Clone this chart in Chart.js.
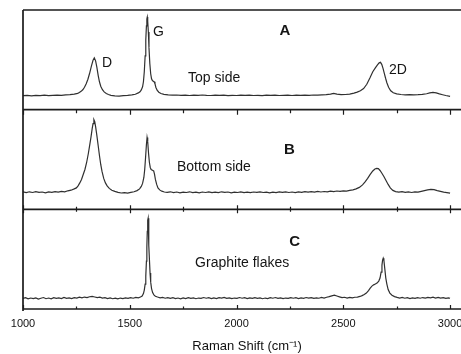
<!DOCTYPE html>
<html>
<head>
<meta charset="utf-8">
<script src="https://cdn.jsdelivr.net/npm/chart.js@4.4.1/dist/chart.umd.min.js"></script>
<style>
  html, body { margin: 0; padding: 0; background: #fff; overflow: hidden; }
  #raman { display: block; }
</style>
</head>
<body>
<canvas id="raman" width="471" height="354"></canvas>
<script>
// ================= Data (Raman shift cm-1, intensity a.u.) =================
const topSide = [
  [1000,14.0],[1020,14.4],[1040,13.9],[1060,14.3],[1080,14.1],[1100,14.5],[1120,14.0],[1140,14.4],
  [1160,14.6],[1180,14.3],[1200,14.8],[1220,15.0],[1240,15.6],
  [1256,16.4],[1264,17.2],[1272,18.4],[1280,20.0],[1288,22.5],[1296,26.0],[1304,30.5],[1312,36.5],
  [1320,43.5],[1328,49.5],[1334,52.0],[1340,49.0],[1346,42.5],[1352,34.5],[1358,28.0],[1364,23.5],
  [1372,20.0],[1380,17.8],[1390,16.2],[1400,15.2],[1412,14.4],
  [1430,13.9],[1450,13.6],[1470,14.0],[1490,14.3],[1510,14.8],[1526,15.5],[1540,16.8],
  [1548,18.0],[1554,19.8],[1560,23.0],[1564,28.0],[1568,38.0],[1572,54.0],[1575,70.0],[1578,84.0],
  [1580,91.0],[1582,93.0],[1584,89.0],[1587,78.0],[1590,62.0],[1594,46.0],[1598,36.0],[1602,31.0],
  [1606,29.2],[1610,28.6],[1614,28.0],[1618,26.0],[1622,22.5],[1628,19.5],[1636,17.5],[1646,16.2],
  [1660,15.4],
  [1680,14.9],[1700,14.5],[1720,14.7],[1740,14.3],[1760,14.6],[1780,14.2],[1800,14.5],[1820,14.3],
  [1840,14.7],[1860,14.4],[1880,14.2],[1900,14.6],[1920,14.3],[1940,14.5],[1960,14.1],[1980,14.4],
  [2000,14.2],[2020,14.5],[2040,14.3],[2060,14.6],[2080,14.2],[2100,14.4],[2120,14.1],[2140,14.5],
  [2160,14.3],[2180,14.6],[2200,14.2],[2220,14.4],[2240,14.5],[2260,14.2],[2280,14.6],[2300,14.3],
  [2320,14.5],[2340,14.4],[2360,14.7],[2380,14.5],[2400,14.8],[2420,15.0],[2440,15.6],[2455,16.4],
  [2470,15.6],[2490,15.0],[2510,15.2],[2530,15.6],
  [2550,16.6],[2565,17.6],[2580,19.0],[2595,21.2],[2610,25.5],[2625,32.0],[2638,38.0],[2650,42.0],
  [2660,45.0],[2668,47.0],[2674,47.5],[2680,45.5],[2686,41.5],[2692,36.5],[2698,31.5],[2704,27.0],
  [2712,22.5],[2722,19.0],[2734,17.0],[2750,15.8],
  [2770,15.2],[2790,14.9],[2810,15.1],[2830,14.8],[2850,15.0],[2870,15.3],[2890,16.0],[2905,16.8],
  [2920,17.3],[2935,16.8],[2950,15.8],[2965,15.0],[2980,14.2],[3000,13.4]
];

const bottomSide = [
  [1000,17.5],[1015,16.8],[1030,17.6],[1045,16.9],[1060,17.8],[1075,17.0],[1090,17.4],[1105,16.6],
  [1120,17.5],[1135,17.0],[1150,17.8],[1165,17.2],[1180,18.0],[1195,17.6],[1210,18.6],[1225,19.2],
  [1240,20.5],[1250,21.5],[1258,23.5],[1266,26.5],[1274,30.0],[1282,35.0],[1290,40.0],[1298,47.0],
  [1306,56.0],[1312,64.0],[1318,72.0],[1324,81.0],[1328,86.0],[1332,90.0],[1336,88.0],[1340,83.0],
  [1346,74.0],[1352,64.0],[1358,54.0],[1364,45.0],[1370,38.0],[1378,31.0],[1386,26.5],[1394,23.5],
  [1404,21.0],[1416,19.2],
  [1430,18.0],[1445,17.0],[1460,16.4],[1475,16.8],[1490,16.2],[1505,17.0],[1520,17.6],[1534,18.8],
  [1546,20.5],[1554,23.0],[1560,26.0],[1566,32.0],[1570,40.0],[1574,52.0],[1578,65.0],[1581,72.0],
  [1584,68.0],[1588,56.0],[1592,47.0],[1596,42.0],[1600,40.0],[1604,39.5],[1608,39.0],[1612,38.5],
  [1616,35.0],[1620,30.0],[1626,25.0],[1632,21.5],[1640,19.5],[1650,18.2],[1662,17.4],
  [1675,17.0],[1690,17.6],[1705,16.8],[1720,17.4],[1735,16.6],[1750,17.3],[1765,16.9],[1780,17.6],
  [1795,16.8],[1810,17.2],[1825,16.5],[1840,17.4],[1855,16.9],[1870,17.5],[1885,16.7],[1900,17.3],
  [1915,16.8],[1930,17.6],[1945,17.0],[1960,17.4],[1975,16.6],[1990,17.2],[2005,16.9],[2020,17.5],
  [2035,16.8],[2050,17.3],[2065,16.7],[2080,17.4],[2095,17.0],[2110,17.6],[2125,16.9],[2140,17.3],
  [2155,16.6],[2170,17.2],[2185,16.8],[2200,17.5],[2215,17.0],[2230,17.6],[2245,16.9],[2260,17.4],
  [2275,16.8],[2290,17.5],[2305,17.1],[2320,17.8],[2335,17.2],[2350,17.7],[2365,17.3],[2380,18.0],
  [2395,17.4],[2410,17.9],[2425,17.5],[2440,18.2],[2455,17.8],[2470,18.4],[2485,18.0],[2500,18.6],
  [2515,18.3],[2530,19.0],
  [2545,19.6],[2560,20.5],[2575,22.0],[2590,24.5],[2602,27.5],[2614,31.0],[2626,35.0],[2638,38.5],
  [2648,40.5],[2656,41.0],[2664,40.8],[2672,39.0],[2680,36.5],[2690,33.0],[2700,29.0],[2710,25.0],
  [2720,21.5],[2732,19.0],[2745,17.8],
  [2760,17.2],[2775,17.8],[2790,17.0],[2805,17.6],[2820,16.9],[2835,17.5],[2850,17.2],[2865,18.0],
  [2880,18.8],[2895,19.5],[2910,20.0],[2925,19.7],[2940,18.8],[2955,18.0],[2970,17.2],[2985,16.8],
  [3000,16.2]
];

const graphiteFlakes = [
  [1000,10.6],[1012,11.4],[1024,10.2],[1036,11.0],[1048,10.4],[1060,11.2],[1072,10.0],[1084,10.8],
  [1096,11.5],[1108,10.3],[1120,11.0],[1132,10.2],[1144,11.3],[1156,10.6],[1168,11.1],[1180,10.4],
  [1192,11.6],[1204,10.7],[1216,11.2],[1228,10.5],[1240,11.4],[1252,11.0],[1264,11.8],[1276,11.2],
  [1288,12.0],[1300,11.5],[1312,12.3],[1324,12.6],[1336,12.0],[1348,11.4],[1360,11.8],[1372,10.9],
  [1384,11.3],[1396,10.5],[1408,11.1],[1420,10.3],[1432,10.9],[1444,10.2],[1456,11.0],[1468,10.5],
  [1480,11.2],[1492,10.6],[1504,11.4],[1516,10.8],[1528,11.6],[1540,11.2],[1550,12.0],[1558,13.0],
  [1564,15.5],[1568,19.0],[1572,25.0],[1575,33.0],[1578,48.0],[1580,62.0],[1582,78.0],[1584,89.0],
  [1586,91.0],[1588,82.0],[1590,64.0],[1592,50.0],[1595,36.0],[1598,27.0],[1602,20.5],[1607,16.5],
  [1613,14.2],[1620,12.8],[1630,12.0],[1642,11.2],
  [1654,11.6],[1666,10.8],[1678,11.4],[1690,10.6],[1702,11.3],[1714,10.4],[1726,11.0],[1738,10.2],
  [1750,11.1],[1762,10.5],[1774,11.4],[1786,10.7],[1798,11.2],[1810,10.3],[1822,11.0],[1834,10.6],
  [1846,11.5],[1858,10.8],[1870,11.3],[1882,10.4],[1894,11.1],[1906,10.5],[1918,11.4],[1930,10.9],
  [1942,11.6],[1954,10.7],[1966,11.2],[1978,10.4],[1990,11.0],[2002,10.6],[2014,11.5],[2026,10.8],
  [2038,11.3],[2050,10.5],[2062,11.2],[2074,10.6],[2086,11.4],[2098,10.7],[2110,11.1],[2122,10.3],
  [2134,11.0],[2146,10.5],[2158,11.3],[2170,10.8],[2182,11.5],[2194,10.6],[2206,11.2],[2218,10.4],
  [2230,11.0],[2242,10.6],[2254,11.4],[2266,10.8],[2278,11.3],[2290,10.5],[2302,11.1],[2314,10.7],
  [2326,11.5],[2338,10.9],[2350,11.4],[2362,10.6],[2374,11.2],[2386,10.8],[2398,11.6],[2410,11.0],
  [2422,11.8],[2434,12.4],[2446,13.2],[2458,13.8],[2470,13.0],[2482,12.2],[2494,11.4],[2506,11.8],
  [2518,11.0],[2530,11.6],[2542,11.2],[2554,11.8],[2566,12.0],
  [2578,12.6],[2588,13.4],[2598,14.5],[2608,16.0],[2618,18.5],[2626,21.0],[2634,23.0],[2642,24.2],
  [2650,25.0],[2658,26.0],[2666,28.0],[2672,31.0],[2677,37.0],[2681,44.0],[2684,49.0],[2687,51.0],
  [2690,49.0],[2694,41.0],[2699,31.0],[2704,25.0],[2710,19.5],[2718,16.0],[2728,13.8],[2740,12.4],
  [2752,11.6],
  [2764,11.0],[2776,11.6],[2788,10.8],[2800,11.3],[2812,10.5],[2824,11.2],[2836,10.6],[2848,11.4],
  [2860,10.8],[2872,11.5],[2884,11.0],[2896,11.7],[2908,11.2],[2920,11.8],[2932,11.0],[2944,11.6],
  [2956,10.9],[2968,11.4],[2980,10.7],[2992,11.2],[3000,10.8]
];

const majorTicks = [1000, 1500, 2000, 2500, 3000];
const minorTicks = [1250, 1750, 2250, 2750];

// text labels placed in data units of each panel
const annotations = [
  { text: 'A', x: 2227, y: 75, axis: 'yA', bold: true, align: 'center' },
  { text: 'D', x: 1370, y: 43.3, axis: 'yA' },
  { text: 'G', x: 1609, y: 74, axis: 'yA' },
  { text: 'Top side', x: 1773, y: 27.3, axis: 'yA' },
  { text: '2D', x: 2714, y: 36, axis: 'yA' },
  { text: 'B', x: 2248, y: 55.7, axis: 'yB', bold: true, align: 'center' },
  { text: 'Bottom side', x: 1721, y: 38.3, axis: 'yB' },
  { text: 'C', x: 2272, y: 63, axis: 'yC', bold: true, align: 'center' },
  { text: 'Graphite flakes', x: 1806, y: 41.7, axis: 'yC' }
];

const FONT = '"Liberation Sans", Arial, Helvetica, sans-serif';

// ================= Frame, ticks and labels =================
const framePlugin = {
  id: 'frame',
  afterDatasetsDraw(chart) {
    const { ctx, chartArea: a, scales } = chart;
    const x = scales.x;
    const sepAB = scales.yA.bottom, sepBC = scales.yB.bottom;
    ctx.save();
    ctx.strokeStyle = '#1c1c1c';
    ctx.lineWidth = 1.7;
    ctx.beginPath();
    ctx.moveTo(a.left, a.top); ctx.lineTo(a.right, a.top);
    ctx.moveTo(a.left, a.top); ctx.lineTo(a.left, a.bottom + 2);
    [sepAB, sepBC, a.bottom].forEach(y => { ctx.moveTo(a.left, y); ctx.lineTo(a.right, y); });
    ctx.stroke();

    ctx.lineWidth = 1.2;
    ctx.beginPath();
    x.ticks.forEach(t => {
      const px = Math.round(x.getPixelForValue(t.value)) + 0.5;
      const major = majorTicks.includes(t.value);
      ctx.moveTo(px, sepAB); ctx.lineTo(px, sepAB + (major ? 5 : 3.5));
      ctx.moveTo(px, sepBC - (major ? 4 : 2.5)); ctx.lineTo(px, sepBC + (major ? 4 : 2.5));
      ctx.moveTo(px, a.bottom); ctx.lineTo(px, a.bottom - (major ? 4 : 2.5));
    });
    ctx.stroke();

    ctx.fillStyle = '#151515';
    ctx.textBaseline = 'alphabetic';
    annotations.forEach(n => {
      ctx.font = (n.bold ? 'bold 15px ' : '14px ') + FONT;
      ctx.textAlign = n.align || 'left';
      ctx.fillText(n.text, x.getPixelForValue(n.x), scales[n.axis].getPixelForValue(n.y));
    });
    ctx.restore();
  }
};

const panelScale = weight => ({
  type: 'linear',
  position: 'left',
  stack: 'panels',
  stackWeight: 1,
  weight,
  min: 0,
  max: 100,
  ticks: { display: false },
  grid: { display: false, drawTicks: false },
  border: { display: false },
  afterFit: s => { s.width = 0; }
});

const lineSet = (data, axis) => ({
  data: data.map(p => ({ x: p[0], y: p[1] })),
  yAxisID: axis,
  borderColor: '#303030',
  borderWidth: 1.2,
  pointRadius: 0,
  tension: 0,
  fill: false
});

new Chart(document.getElementById('raman').getContext('2d'), {
  type: 'line',
  data: {
    datasets: [
      lineSet(topSide, 'yA'),
      lineSet(bottomSide, 'yB'),
      lineSet(graphiteFlakes, 'yC')
    ]
  },
  options: {
    responsive: false,
    devicePixelRatio: 1,
    animation: false,
    layout: { padding: { left: 23, top: 10, right: 0, bottom: 0 } },
    plugins: { legend: { display: false }, tooltip: { enabled: false } },
    scales: {
      x: {
        type: 'linear',
        min: 1000,
        max: 3098,
        afterBuildTicks: s => {
          s.ticks = [...majorTicks, ...minorTicks].sort((p, q) => p - q).map(v => ({ value: v }));
        },
        ticks: {
          autoSkip: false,
          maxRotation: 0,
          padding: 8,
          color: '#111',
          font: { family: FONT, size: 11 },
          callback: v => majorTicks.includes(v) ? String(v) : ''
        },
        grid: { display: false, drawTicks: false },
        border: { display: false },
        title: {
          display: true,
          text: 'Raman Shift (cm\u207B\u00B9)',
          color: '#111',
          font: { family: FONT, size: 13 },
          padding: { top: 0, bottom: 0 }
        },
        afterFit: s => { s.height = 45; }
      },
      yA: panelScale(3),
      yB: panelScale(2),
      yC: panelScale(1)
    }
  },
  plugins: [framePlugin]
});
</script>
</body>
</html>
